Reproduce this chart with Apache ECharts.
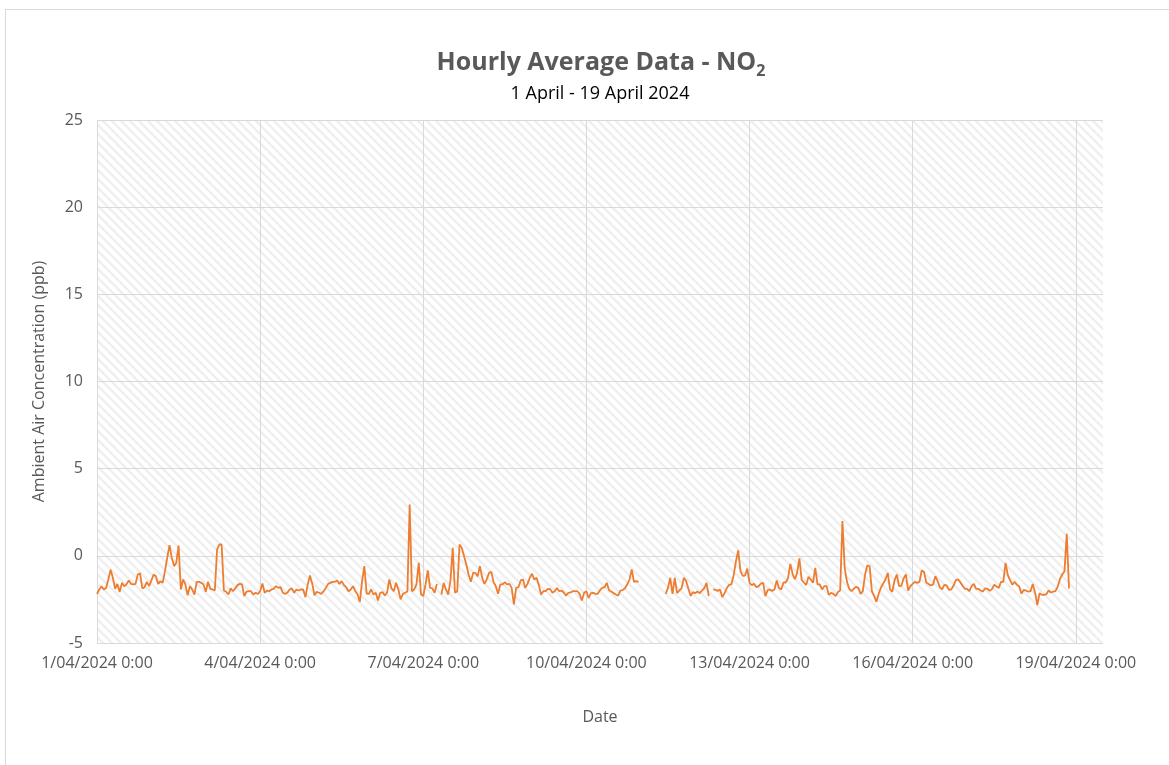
<!DOCTYPE html>
<html>
<head>
<meta charset="utf-8">
<script src="https://cdn.jsdelivr.net/npm/echarts@6/dist/echarts.min.js"></script>
<style>
html,body{margin:0;padding:0;background:#fff;}
#frame{position:absolute;left:5px;top:9px;width:1164px;height:760px;border-left:1px solid #d9d9d9;border-top:1px solid #d9d9d9;}
#chart{position:absolute;left:0;top:0;width:1169px;height:765px;}
</style>
</head>
<body>
<div id="frame"></div>
<div id="chart"></div>
<script>
// Hourly NO2 (ppb), hour index 0 = 1/04/2024 0:00
const day1to3 = [-2.18,-1.93,-1.74,-1.93,-1.84,-1.36,-0.80,-1.26,-1.89,-1.61,
 -2.08,-1.55,-1.74,-1.64,-1.41,-1.61,-1.64,-1.61,-1.07,-1.01,
 -1.87,-1.80,-1.49,-1.74,-1.41,-1.07,-1.17,-1.61,-1.45,-1.55,
 -0.88,-0.11,0.61,-0.11,-0.59,-0.40,0.59,-1.93,-1.36,-1.64,
 -2.26,-1.74,-1.93,-2.22,-1.49,-1.49,-1.55,-1.64,-2.06,-1.49,
 -1.89,-1.93,-1.99,0.36,0.65,0.65,-1.99,-2.06,-2.22,-1.87,
 -2.03,-1.87,-1.68,-1.61,-1.64,-2.31,-2.06,-2.03,-2.03,-2.22,
 -2.12,-2.18];
const day4to6 = [-2.03,-1.59,-2.12,-1.99,-2.03,-1.93,-1.89,-1.74,-1.84,-1.80,-2.12,
 -2.18,-2.12,-1.93,-1.87,-2.12,-1.93,-1.99,-1.93,-1.93,-2.37,
 -1.64,-1.13,-1.61,-2.26,-2.06,-2.12,-2.18,-2.03,-1.84,-1.61,
 -1.55,-1.49,-1.49,-1.41,-1.61,-1.45,-1.68,-1.80,-2.03,-1.93,
 -1.74,-2.03,-2.22,-2.64,-1.45,-0.59,-2.16,-2.18,-1.93,-2.22,
 -2.12,-2.56,-2.12,-2.08,-2.28,-2.12,-1.36,-1.87,-2.03,-1.55,
 -1.93,-2.50,-2.18,-2.12,-2.05,2.94,-2.03,-1.93,-1.64,-0.40,-2.22];
const day7to9 = [-2.31,-1.64,-0.84,-1.84,-1.87,-2.12,-1.61,null,-2.22,-1.55,
 -1.93,-2.22,-1.41,0.46,-2.12,-2.03,0.65,0.46,-0.02,-0.50,
 -1.07,-1.49,-0.98,-0.98,-1.17,-0.59,-1.26,-1.61,-1.36,-0.98,
 -0.92,-1.49,-1.74,-2.18,-1.64,-1.64,-1.51,-1.64,-1.61,-1.84,
 -2.79,-1.84,-1.80,-1.41,-1.36,-1.84,-1.61,-1.26,-1.03,-1.36,
 -1.26,-1.68,-2.22,-2.03,-2.03,-1.89,-1.91,-2.12,-2.03,-1.84,
 -2.03,-1.99,-2.10,-2.29,-2.12,-2.10,-2.03,-2.03,-2.03,-2.18,
 -2.56,-2.12];
const day10to12 = [-2.03,-2.41,-2.14,-2.12,-2.18,-2.18,-1.97,-1.84,-1.80,-1.55,
 -1.97,-2.05,-2.14,-2.22,-2.29,-1.99,-1.97,-1.86,-1.64,-1.38,
 -0.78,-1.49,-1.45,-1.49,null,null,null,null,null,null,
 null,null,null,null,null,-2.18,-1.84,-1.26,-2.18,-1.26,
 -2.14,-1.99,-1.87,-1.26,-1.45,-1.87,-2.31,-2.08,-2.14,-2.05,
 -2.14,-1.99,-1.86,-1.55,-2.31,null,-1.93,-1.95,-2.01,-1.93,
 -2.37,-2.14,-1.84,-1.66,-1.63,-1.11,-0.31,0.31,-0.88,-1.15,
 -1.13,-0.73];
const day13to15 = [-1.55,-1.68,-1.61,-1.80,-1.74,-1.59,-1.55,-2.31,-1.97,-1.93,
 -2.01,-1.93,-1.41,-1.84,-1.93,-1.53,-1.53,-1.26,-0.46,-1.03,
 -1.34,-0.98,-0.15,-1.38,-1.53,-1.68,-1.20,-1.36,-1.55,-0.69,
 -1.64,-1.64,-1.93,-1.74,-1.74,-2.24,-2.12,-2.18,-2.31,-2.08,
 -1.99,1.99,-0.69,-1.49,-1.89,-2.03,-1.89,-1.78,-1.84,-2.18,
 -2.03,-1.07,-0.54,-0.60,-2.03,-2.31,-2.64,-2.18,-1.82,-1.59,
 -1.36,-0.98,-1.93,-2.06,-1.41,-1.07,-1.74,-1.72,-1.30,-1.07,
 -1.99,-1.74];
const day16to18 = [-1.61,-1.49,-1.55,-1.49,-0.84,-0.92,-1.53,-1.61,-1.70,-1.64,
 -1.17,-1.45,-1.80,-1.93,-1.66,-1.70,-1.95,-1.93,-1.72,-1.41,
 -1.34,-1.51,-1.72,-1.89,-1.89,-2.03,-1.74,-1.61,-1.89,-1.89,
 -1.99,-2.05,-1.86,-1.89,-2.01,-1.91,-1.66,-1.76,-1.84,-1.49,
 -1.49,-0.40,-1.11,-1.41,-1.66,-1.49,-1.66,-1.74,-2.18,-1.95,
 -1.99,-2.06,-2.03,-1.61,-2.10,-2.83,-2.14,-2.24,-2.24,-2.20,
 -1.99,-2.10,-2.06,-2.03,-1.76,-1.34,-1.07,-0.88,1.26,-1.87];

const xTickLabels = ['1/04/2024 0:00','4/04/2024 0:00','7/04/2024 0:00','10/04/2024 0:00','13/04/2024 0:00','16/04/2024 0:00','19/04/2024 0:00'];
const yTicks = [-5, 0, 5, 10, 15, 20, 25];

const values = [].concat(day1to3, day4to6, day7to9, day10to12, day13to15, day16to18);
const seriesData = values.map((v, i) => [i, v === null ? '-' : v]);

// hatch pattern for plot area
const pc = document.createElement('canvas');
pc.width = 9; pc.height = 9;
const g = pc.getContext('2d');
g.fillStyle = '#ffffff'; g.fillRect(0,0,9,9);
g.strokeStyle = '#efefef'; g.lineWidth = 2.4;
g.beginPath();
g.moveTo(-9,-9); g.lineTo(18,18);
g.moveTo(-9,0); g.lineTo(9,18);
g.moveTo(0,-9); g.lineTo(18,9);
g.stroke();

const FONT = '"Open Sans", "Liberation Sans", sans-serif';
const chart = echarts.init(document.getElementById('chart'), null, {renderer: 'canvas'});
chart.setOption({
  animation: false,
  backgroundColor: 'transparent',
  title: [{
    text: 'Hourly Average Data - NO{sub|2}',
    left: 596, top: 42, textAlign: 'center',
    textStyle: {
      fontFamily: FONT, fontSize: 25, fontWeight: 'bold', color: '#595959', lineHeight: 32,
      rich: { sub: { fontFamily: FONT, fontSize: 16, fontWeight: 'bold', color: '#595959', verticalAlign: 'bottom', lineHeight: 20 } }
    }
  }, {
    text: '1 April - 19 April 2024',
    left: 595, top: 80, textAlign: 'center',
    textStyle: { fontFamily: FONT, fontSize: 18, fontWeight: 'normal', color: '#000000' }
  }],
  grid: {
    left: 97, right: 66, top: 120, bottom: 122,
    show: true, borderWidth: 0,
    backgroundColor: { image: pc, repeat: 'repeat' }
  },
  xAxis: {
    type: 'value', min: 0, max: 444, interval: 72,
    name: 'Date', nameLocation: 'middle', nameGap: 66,
    nameTextStyle: { fontFamily: FONT, fontSize: 16, color: '#595959' },
    axisLine: { show: true, lineStyle: { color: '#d9d9d9', width: 1 } },
    axisTick: { show: false },
    splitLine: { show: true, showMaxLine: false, lineStyle: { color: '#d9d9d9', width: 1 } },
    axisLabel: {
      fontFamily: FONT, fontSize: 16, color: '#595959', margin: 12,
      showMaxLabel: false,
      formatter: function (v) { return v % 72 === 0 ? xTickLabels[v / 72] : ''; }
    }
  },
  yAxis: {
    type: 'value', min: yTicks[0], max: yTicks[yTicks.length - 1], interval: 5,
    name: 'Ambient Air Concentration (ppb)', nameLocation: 'middle', nameGap: 50,
    nameTextStyle: { fontFamily: FONT, fontSize: 16, color: '#595959' },
    axisLine: { show: false },
    axisTick: { show: false },
    splitLine: { show: true, lineStyle: { color: '#d9d9d9', width: 1 } },
    axisLabel: { fontFamily: FONT, fontSize: 16, color: '#595959', margin: 14 }
  },
  series: [{
    type: 'line',
    data: seriesData,
    showSymbol: false,
    connectNulls: false,
    lineStyle: { color: '#ED7D31', width: 1.8 },
    itemStyle: { color: '#ED7D31' }
  }]
});
</script>
</body>
</html>
